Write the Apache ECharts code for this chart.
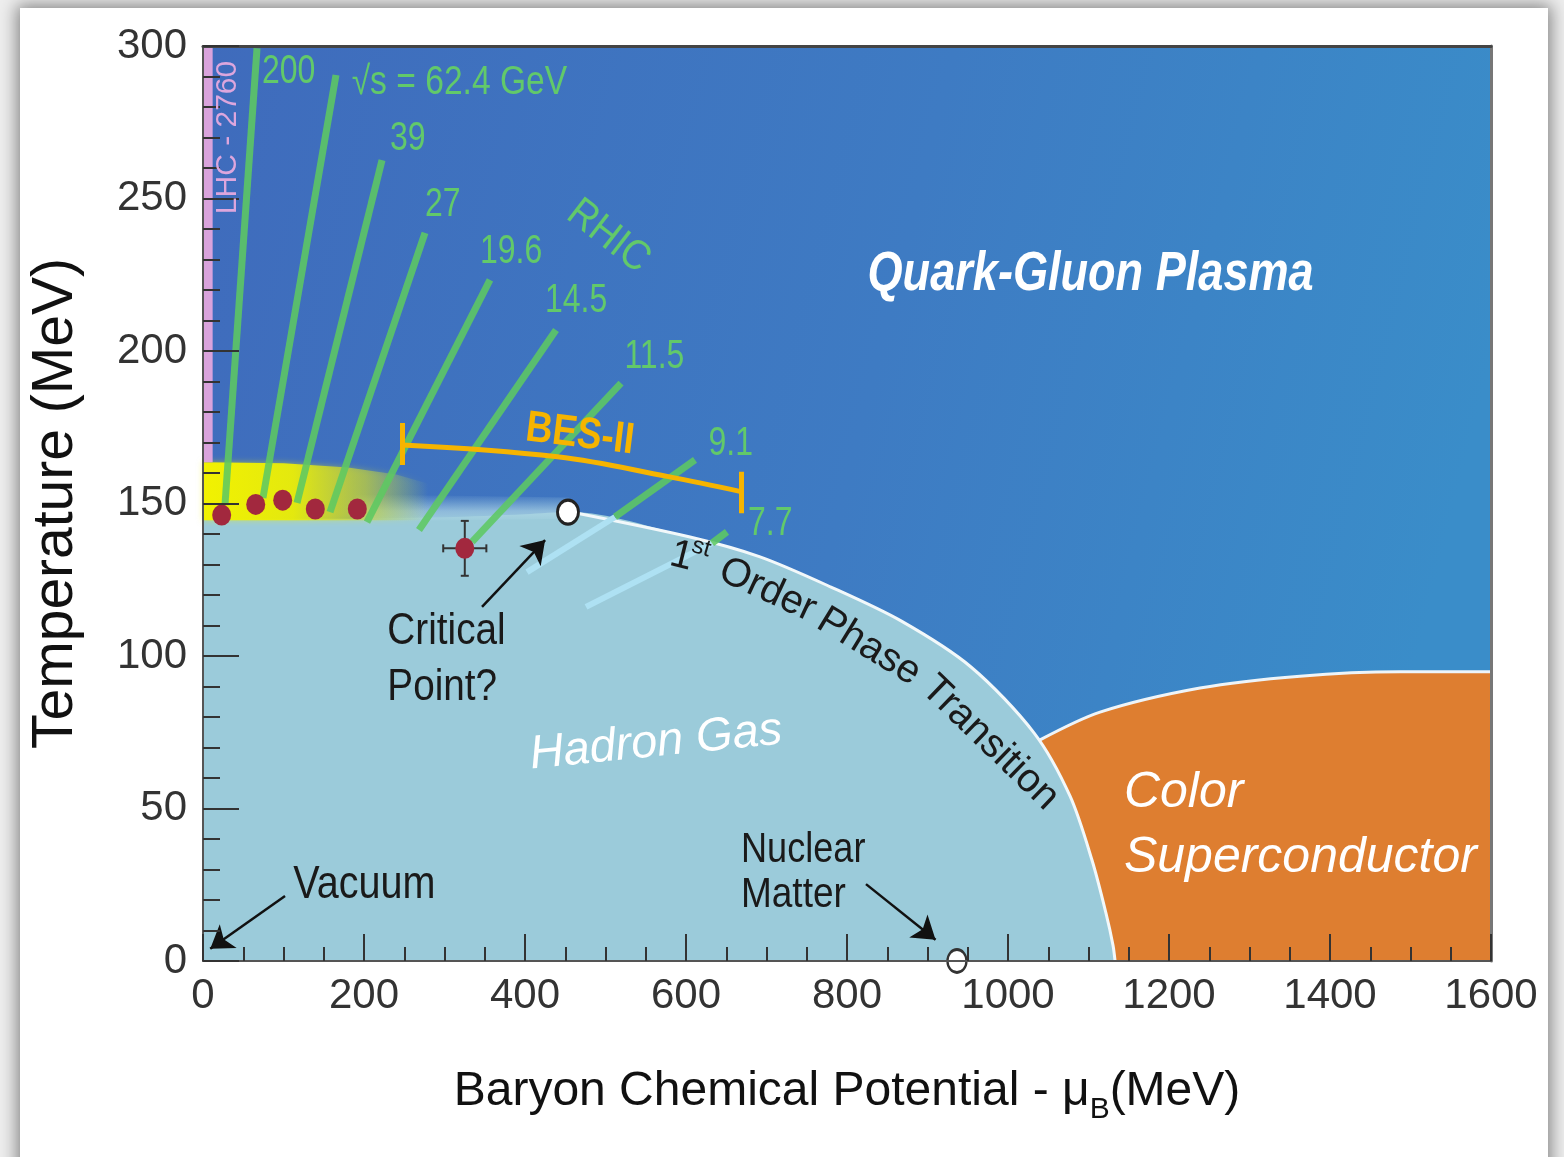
<!DOCTYPE html>
<html>
<head>
<meta charset="utf-8">
<script src="https://cdn.jsdelivr.net/npm/echarts@6/dist/echarts.min.js"></script>
<style>
html,body{margin:0;padding:0;width:1564px;height:1157px;overflow:hidden;background:#eeeeee;}
#card{position:absolute;left:20px;top:8px;width:1528px;height:1200px;background:#fff;box-shadow:0 0 16px 3px rgba(0,0,0,0.45);}
#chart{position:absolute;left:0;top:0;width:1564px;height:1157px;}
</style>
</head>
<body>
<div id="card"></div>
<div id="chart"></div>
<script>
const SANS = '"Liberation Sans",Arial,Helvetica,sans-serif';

// ---------------- data (mu_B in MeV, T in MeV) ----------------
const crossoverEdge = [[0,145],[150,145],[300,145.5],[400,146.5]];
const firstOrderLine = [[457.1,147.2],[605,139],[692,132.5],[780.1,122.6],[867.1,111.5],[954,96.4],[1032.3,74.8],[1077,54.1],[1104.3,33.1],[1121.7,15.7],[1130.4,5.2],[1133,0]];
const superconductorTop = [[1039.8,72.5],[1114.3,81.6],[1238.5,89.5],[1362.7,93.4],[1487,94.8],[1600,94.8]];
const yellowBand = [[0,144.5],[0,163.5],[100,163.2],[180,161.8],[240,159.5],[280,156.5],[280,144.5]];
const hazeBand = [[190,144],[190,153],[455,152],[455,145]];
const lhcStrip = [[0,163.5],[0,300],[12,300],[12,163.5]];
const energies = ['200','√s = 62.4 GeV','39','27','19.6','14.5','11.5','9.1','7.7'];
const trajTop = [[67.1,299.3],[165.2,290.5],[222.4,262.6],[275.8,238.7],[356.5,223.3],[438.5,206.9],[519.3,189.5],[611.2,164.3],[650.9,140.7]];
const trajEnd = [[27.3,149.5],[74.5,151.8],[116.8,150.2],[157.8,147.2],[203.7,143.9],[268.3,141.3],[334.2,137.4],[511.8,145.6],[632.3,137]];
const trajHadron = [[[511.8,145.6],[402.5,127.5]],[[632.3,137],[475.8,116.1]]];
const freezeOut = [[23.2,146.2],[65.5,149.7],[99,151.1],[139.5,148.2],[191.7,148.2]];
const starPoint = [325.2,135.3];
const starErr = [26.8,9];
const criticalPoint = [453.4,147.2];
const nuclearMatter = [936.6,0];
const besArc = [[247.7,169.2],[440.2,165.3],[578.1,158.8],[668.3,153.9]];
const besCaps = [[[247.7,176.4],[247.7,162.6]],[[668.3,160.4],[668.3,146.8]]];
const arrows = [[[346.6,116.1],[425,138]],[[101.9,21.3],[9,4]],[[823.6,25.2],[910,7]]];

// annotation anchors (data coordinates)
const energyLabelAt = [[73.3,291.5],[184.7,288],[232.3,269.5],[275.8,247.9],[344.1,232.5],[424.8,216.4],[523.5,198],[628,169.5],[677,143.4]];

const chart = echarts.init(document.getElementById('chart'), null, {renderer:'canvas'});

function polygonSeries(pts, fill, z, extraStyle, smooth){
  return {type:'custom', coordinateSystem:'cartesian2d', z:z, silent:true, clip:false, data:[[0,0]],
    renderItem:function(params, api){
      return {type:'polygon', shape:{points:pts.map(function(p){return api.coord(p);}), smooth:smooth||0},
        style:Object.assign({fill:fill}, extraStyle||{})};
    }};
}

const bgFill = new echarts.graphic.LinearGradient(0,0,1,0.35,[{offset:0,color:'#3F6BBC'},{offset:0.55,color:'#3E7BC3'},{offset:1,color:'#3A8DC9'}]);
const yellowFill = new echarts.graphic.LinearGradient(0,0,1,0,[
  {offset:0,color:'rgba(242,242,0,1)'},{offset:0.4,color:'rgba(232,236,10,0.95)'},
  {offset:0.72,color:'rgba(195,210,60,0.6)'},{offset:1,color:'rgba(160,200,120,0)'}]);
const hazeFill = new echarts.graphic.LinearGradient(0,0,0,1,[
  {offset:0,color:'rgba(170,212,228,0)'},{offset:0.6,color:'rgba(175,215,230,0.7)'},{offset:1,color:'rgba(155,203,218,1)'}]);

const lineAxisStyle = {color:'#333', width:2};
const numFmt = function(v){ return String(v); };

const option = {
  animation:false,
  grid:{left:203, right:73, top:46, bottom:196},
  xAxis:[{
    type:'value', min:0, max:1600, interval:200, position:'bottom', z:20,
    axisLine:{show:true, onZero:false, lineStyle:{color:'#555', width:2}},
    axisTick:{show:true, inside:true, length:27, lineStyle:lineAxisStyle},
    minorTick:{show:true, splitNumber:4, length:14, lineStyle:lineAxisStyle},
    splitLine:{show:false},
    axisLabel:{fontSize:42, color:'#333', fontFamily:SANS, margin:14, formatter:numFmt},
    name:'{n|Baryon Chemical Potential - μ}{s|B}{n|(MeV)}', nameLocation:'middle', nameGap:96,
    nameTextStyle:{rich:{
      n:{fontSize:48, fontFamily:SANS, color:'#111', lineHeight:70, verticalAlign:'middle'},
      s:{fontSize:30, fontFamily:SANS, color:'#111', lineHeight:30, verticalAlign:'middle', padding:[36,0,0,0]}}}
  },{
    type:'value', min:0, max:1600, position:'top', z:20,
    axisLine:{show:true, onZero:false, lineStyle:{color:'#444', width:3}},
    axisTick:{show:false}, axisLabel:{show:false}, splitLine:{show:false}
  }],
  yAxis:[{
    type:'value', min:0, max:300, interval:50, z:20,
    axisLine:{show:true, onZero:false, lineStyle:{color:'#555', width:2}},
    axisTick:{show:true, inside:true, length:36, lineStyle:lineAxisStyle},
    minorTick:{show:true, splitNumber:5, length:17, lineStyle:lineAxisStyle},
    splitLine:{show:false},
    axisLabel:{fontSize:42, color:'#333', fontFamily:SANS, margin:16, formatter:numFmt},
    name:'Temperature (MeV)', nameLocation:'middle', nameGap:118,
    nameTextStyle:{fontSize:57, fontFamily:SANS, color:'#111'}
  },{
    type:'value', min:0, max:300, position:'right', z:20,
    axisLine:{show:true, onZero:false, lineStyle:{color:'#777', width:3}},
    axisTick:{show:false}, axisLabel:{show:false}, splitLine:{show:false}
  }],
  series:[
    polygonSeries([[0,0],[0,300],[1600,300],[1600,0]], bgFill, 1),
    {type:'line', z:2, silent:true, smooth:0.3, symbol:'none', data:superconductorTop,
      lineStyle:{color:'#EEF4F8', width:3}, areaStyle:{color:'#DE7E30', opacity:1, origin:'start'}},
    {type:'line', z:3, silent:true, smooth:0.3, symbol:'none', data:crossoverEdge.concat(firstOrderLine),
      lineStyle:{width:0}, areaStyle:{color:'#9BCBDA', opacity:1, origin:'start'}},
    polygonSeries(hazeBand, hazeFill, 4),
    {type:'line', z:5, silent:true, smooth:0.3, symbol:'none', data:firstOrderLine,
      lineStyle:{color:'#F2F8FA', width:3}},
    polygonSeries(yellowBand, yellowFill, 6, {shadowBlur:6, shadowColor:'rgba(240,240,0,0.5)'}),
    polygonSeries(lhcStrip, '#D9A3DC', 6),
    {type:'lines', coordinateSystem:'cartesian2d', z:8, silent:true,
      data:trajHadron.map(function(c){return {coords:c};}),
      lineStyle:{color:'#AEE1F3', width:6, opacity:1, curveness:0}},
    {type:'lines', coordinateSystem:'cartesian2d', z:9, silent:true,
      data:trajTop.map(function(t,i){return {coords:[trajEnd[i], t]};}),
      lineStyle:{color:'#5DC862', width:7, opacity:0.88, curveness:0}},
    {type:'line', z:10, silent:true, smooth:0.4, symbol:'none', data:besArc,
      lineStyle:{color:'#F6B400', width:5}},
    {type:'lines', coordinateSystem:'cartesian2d', z:10, silent:true,
      data:besCaps.map(function(c){return {coords:c};}),
      lineStyle:{color:'#F6B400', width:5, opacity:1}},
    {type:'custom', coordinateSystem:'cartesian2d', z:11, silent:true, data:[starPoint],
      renderItem:function(params, api){
        const l = api.coord([starPoint[0]-starErr[0], starPoint[1]]);
        const r = api.coord([starPoint[0]+starErr[0], starPoint[1]]);
        const t = api.coord([starPoint[0], starPoint[1]+starErr[1]]);
        const b = api.coord([starPoint[0], starPoint[1]-starErr[1]]);
        const st = {stroke:'#333', lineWidth:2};
        return {type:'group', children:[
          {type:'line', shape:{x1:l[0],y1:l[1],x2:r[0],y2:r[1]}, style:st},
          {type:'line', shape:{x1:t[0],y1:t[1],x2:b[0],y2:b[1]}, style:st},
          {type:'line', shape:{x1:l[0],y1:l[1]-4,x2:l[0],y2:l[1]+4}, style:st},
          {type:'line', shape:{x1:r[0],y1:r[1]-4,x2:r[0],y2:r[1]+4}, style:st},
          {type:'line', shape:{x1:t[0]-4,y1:t[1],x2:t[0]+4,y2:t[1]}, style:st},
          {type:'line', shape:{x1:b[0]-4,y1:b[1],x2:b[0]+4,y2:b[1]}, style:st}
        ]};
      }},
    {type:'scatter', z:12, silent:true, clip:false, data:freezeOut.concat([starPoint]), symbol:'circle', symbolSize:[19,21],
      itemStyle:{color:'#A2283E', opacity:1}},
    {type:'scatter', z:12, silent:true, clip:false, data:[criticalPoint], symbol:'circle', symbolSize:[21,24],
      itemStyle:{color:'#FFFFFF', borderColor:'#222', borderWidth:3, opacity:1}},
    {type:'scatter', z:12, silent:true, clip:false, data:[nuclearMatter], symbol:'circle', symbolSize:[19,23],
      itemStyle:{color:'#FFFFFF', borderColor:'#333', borderWidth:2.5, opacity:1}},
    {type:'lines', coordinateSystem:'cartesian2d', z:13, silent:true,
      data:arrows.map(function(c){return {coords:c};}),
      symbol:['none','arrow'], symbolSize:22,
      lineStyle:{color:'#111', width:2.5, opacity:1}}
  ]
};
chart.setOption(option);

const labelDefs = [
  {text:'Quark-Gluon Plasma', at:[1102.6,224.9], font:'italic bold 55px '+SANS, color:'#FFFFFF', align:'center', sx:0.82},
  {text:'Hadron Gas', at:[562.7,71.5], font:'italic 47px '+SANS, color:'#FFFFFF', align:'center', rot:5.7},
  {text:'Color', at:[1144,55.2], font:'italic 50px '+SANS, color:'#FFFFFF', align:'left'},
  {text:'Superconductor', at:[1144,33.9], font:'italic 50px '+SANS, color:'#FFFFFF', align:'left'},
  {text:'Critical', at:[229,108], font:'44px '+SANS, color:'#1A1A1A', align:'left', sx:0.88},
  {text:'Point?', at:[229,89.5], font:'44px '+SANS, color:'#1A1A1A', align:'left', sx:0.88},
  {text:'Vacuum', at:[112.2,24.9], font:'46px '+SANS, color:'#1A1A1A', align:'left', sx:0.86},
  {text:'Nuclear', at:[668.3,36.4], font:'43px '+SANS, color:'#1A1A1A', align:'left', sx:0.84},
  {text:'Matter', at:[668.3,21.6], font:'43px '+SANS, color:'#1A1A1A', align:'left', sx:0.86},
  {text:'BES-II', at:[468.3,172.5], font:'bold 44px '+SANS, color:'#F6B400', align:'center', rot:-7, sx:0.84},
  {text:'RHIC', at:[503.5,237.5], font:'42px '+SANS, color:'#62C96A', align:'center', rot:-37.6, sx:0.9},
  {text:'LHC - 2760', at:[31,270], font:'30px '+SANS, color:'#DDA6DD', align:'center', rot:90},
  {text:'1', at:[594.5,132.6], font:'40px '+SANS, color:'#1A1A1A', align:'center', rot:-14},
  {text:'st', at:[619,135.5], font:'24px '+SANS, color:'#1A1A1A', align:'center', rot:-16},
  {text:'Order', at:[701.2,121.6], font:'40px '+SANS, color:'#1A1A1A', align:'center', rot:-25},
  {text:'Phase', at:[827.3,103], font:'40px '+SANS, color:'#1A1A1A', align:'center', rot:-31.5},
  {text:'Transition', at:[977.6,71.5], font:'40px '+SANS, color:'#1A1A1A', align:'center', rot:-44}
];
energies.forEach(function(e,i){
  labelDefs.push({text:e, at:energyLabelAt[i], font:'40px '+SANS, color:'#62C96A', align:'left', sx:(i===1?0.84:0.8)});
});

const elements = labelDefs.map(function(d){
  const p = chart.convertToPixel({gridIndex:0}, d.at);
  return {type:'text', x:p[0], y:p[1], rotation:(d.rot||0)*Math.PI/180, scaleX:d.sx||1, z:100, silent:true,
    style:{text:d.text, font:d.font, fill:d.color, align:d.align, verticalAlign:'middle',
      textAlign:d.align, textVerticalAlign:'middle'}};
});
chart.setOption({graphic:{elements:elements}});
</script>
</body>
</html>
